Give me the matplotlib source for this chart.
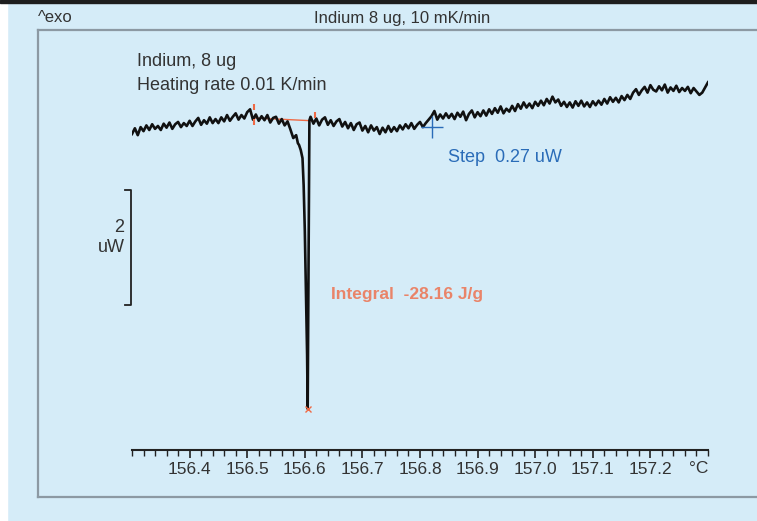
import matplotlib
matplotlib.use('Agg')
import matplotlib.pyplot as plt
import numpy as np
from matplotlib.lines import Line2D

plt.rcParams['font.family'] = ['Liberation Sans', 'DejaVu Sans']

W, H = 757, 521

# DSC curve: temperature (degC) and heat flow (uW)
temp_left = np.linspace(156.300, 156.575, 56)
flow_left = [-0.07, 0.03, -0.09, 0.05, -0.02, 0.08, 0.00, 0.10, 0.02, 0.07,
             0.00, 0.11, 0.04, 0.13, 0.02, 0.10, 0.14, 0.05, 0.12, 0.07,
             0.16, 0.07, 0.15, 0.21, 0.09, 0.17, 0.11, 0.22, 0.12, 0.19,
             0.12, 0.22, 0.15, 0.26, 0.16, 0.23, 0.29, 0.18, 0.26, 0.20,
             0.31, 0.36, 0.18, 0.27, 0.16, 0.24, 0.17, 0.26, 0.13, 0.21,
             0.23, 0.11, 0.19, 0.08, 0.15, 0.01]
temp_peak = [156.580, 156.585, 156.588, 156.590, 156.593, 156.596,
             156.598, 156.600, 156.602, 156.604, 156.605, 156.608]
flow_peak = [-0.14, -0.09, -0.23, -0.26, -0.35, -0.49,
             -0.96, -1.74, -2.78, -3.91, -4.85, 0.17]
temp_right = np.linspace(156.610, 157.300, 139)
flow_right = [0.23, 0.11, 0.20, 0.08, 0.18, 0.22, 0.09, 0.17, 0.07, 0.15,
              0.19, 0.06, 0.14, 0.03, 0.12, 0.00, 0.10, 0.13, -0.01, 0.07,
              -0.04, 0.08, -0.01, 0.05, -0.07, 0.04, -0.04, 0.07, -0.03, 0.05,
              -0.02, 0.08, 0.01, 0.10, 0.03, 0.12, 0.02, 0.09, 0.14, 0.05,
              0.12, 0.18, 0.24, 0.33, 0.18, 0.27, 0.20, 0.29, 0.21, 0.28,
              0.19, 0.30, 0.23, 0.32, 0.17, 0.28, 0.34, 0.22, 0.31, 0.24,
              0.34, 0.25, 0.36, 0.28, 0.38, 0.30, 0.41, 0.29, 0.37, 0.32,
              0.42, 0.33, 0.45, 0.37, 0.48, 0.39, 0.46, 0.38, 0.49, 0.42,
              0.51, 0.43, 0.54, 0.46, 0.58, 0.48, 0.53, 0.42, 0.49, 0.40,
              0.48, 0.39, 0.50, 0.42, 0.51, 0.41, 0.48, 0.40, 0.50, 0.43,
              0.51, 0.44, 0.54, 0.46, 0.57, 0.49, 0.56, 0.48, 0.59, 0.52,
              0.61, 0.54, 0.65, 0.71, 0.61, 0.69, 0.75, 0.65, 0.78, 0.70,
              0.67, 0.76, 0.69, 0.79, 0.65, 0.74, 0.68, 0.77, 0.66, 0.73,
              0.68, 0.75, 0.64, 0.73, 0.67, 0.61, 0.65, 0.74, 0.83]

temp = np.concatenate([temp_left, temp_peak, temp_right])
flow = np.concatenate([flow_left, flow_peak, flow_right])

# evaluation marks
onset_line_t = [156.511, 156.614]
onset_line_f = [0.21, 0.16]
onset_marks_t = [156.511, 156.511, 156.617]
onset_marks_f = [0.40, 0.14, 0.26]
peak_t, peak_f = 156.605, -4.85
step_t, step_f = 156.821, 0.05

tick_pos = [156.4, 156.5, 156.6, 156.7, 156.8, 156.9, 157.0, 157.1, 157.2]
tick_lab = ['156.4', '156.5', '156.6', '156.7', '156.8', '156.9', '157.0', '157.1', '157.2']

bg = '#d5ecf8'
txt = '#333333'
red = '#ef6a45'
blue = '#2a6cb8'

fig = plt.figure(figsize=(W / 100, H / 100), dpi=100, facecolor=bg)


def fx(x):
    return x / W


def fy(y):
    return 1 - y / H


# white strip on the left, dark strip on top
fig.patches.append(plt.Rectangle((0, 0), fx(7), 1, transform=fig.transFigure,
                                 color='white', zorder=0))
fig.patches.append(plt.Rectangle((0, fy(3)), 1, 3 / H, transform=fig.transFigure,
                                 color='#1e1e1e', zorder=0))
# grey frame (open on the right)
frame_c = '#8c99a3'
fig.lines.append(Line2D([fx(38), fx(38)], [fy(30), fy(497)], transform=fig.transFigure,
                        color=frame_c, lw=1.6))
fig.lines.append(Line2D([fx(38), 1], [fy(30), fy(30)], transform=fig.transFigure,
                        color=frame_c, lw=1.6))
fig.lines.append(Line2D([fx(38), 1], [fy(497), fy(497)], transform=fig.transFigure,
                        color=frame_c, lw=1.6))

ax = fig.add_axes([fx(132), fy(450), fx(708) - fx(132), (450 - 40) / H])
ax.set_facecolor('none')
ax.set_xlim(156.3, 157.3)
ax.set_ylim((130 - 450) / 57.5, (130 - 40) / 57.5)

ax.plot(temp, flow, color='#111111', lw=1.9, zorder=3)
ax.plot(onset_line_t, onset_line_f, color=red, lw=1.0, zorder=2)
ax.plot(onset_marks_t, onset_marks_f, ls='none', marker='|', ms=4, mew=1.5,
        color=red, zorder=4)
ax.plot([peak_t], [peak_f], ls='none', marker='x', ms=5, mew=1.0, color=red, zorder=4)
ax.plot([step_t], [step_f], ls='none', marker='+', ms=16, mew=1.0, color=blue, zorder=4)

# 2 uW scale bar
bx0, bx1 = 156.2985, 156.288
ax.plot([bx1, bx0, bx0, bx1], [-1.043, -1.043, -3.043, -3.043], color='#222222',
        lw=1.3, clip_on=False)

for s in ['left', 'right', 'top']:
    ax.spines[s].set_visible(False)
ax.spines['bottom'].set_color('#222222')
ax.spines['bottom'].set_linewidth(1.5)
ax.set_yticks([])
ax.set_xticks(tick_pos)
ax.set_xticklabels(tick_lab)
ax.set_xticks(np.linspace(156.3, 157.3, 51), minor=True)
ax.tick_params(axis='x', which='major', length=6, width=1.2, color='#222222',
               labelsize=12.5, labelcolor=txt, pad=3)
ax.tick_params(axis='x', which='minor', length=4, width=1.0, color='#222222')
ax.text(157.3, -0.028, '°C', transform=ax.get_xaxis_transform(), ha='right', va='top',
        fontsize=12.5, color=txt)

fig.text(fx(38), fy(18), '^exo', ha='left', va='center', fontsize=12, color=txt)
fig.text(fx(402), fy(18), 'Indium 8 ug, 10 mK/min', ha='center', va='center',
         fontsize=12, color=txt)
fig.text(fx(137), fy(61), 'Indium, 8 ug', ha='left', va='center', fontsize=13, color=txt)
fig.text(fx(137), fy(85), 'Heating rate 0.01 K/min', ha='left', va='center',
         fontsize=13, color=txt)
fig.text(fx(448), fy(158), 'Step  0.27 uW', ha='left', va='center', fontsize=13,
         color=blue)
fig.text(fx(331), fy(295), 'Integral  -28.16 J/g', ha='left', va='center', fontsize=12.5,
         color=red, fontweight='bold', alpha=0.8)
fig.text(fx(124), fy(227), '2', ha='right', va='center', fontsize=13, color=txt)
fig.text(fx(125), fy(247), 'uW', ha='right', va='center', fontsize=13, color=txt)

fig.savefig('out.png', dpi=100, facecolor=bg)
